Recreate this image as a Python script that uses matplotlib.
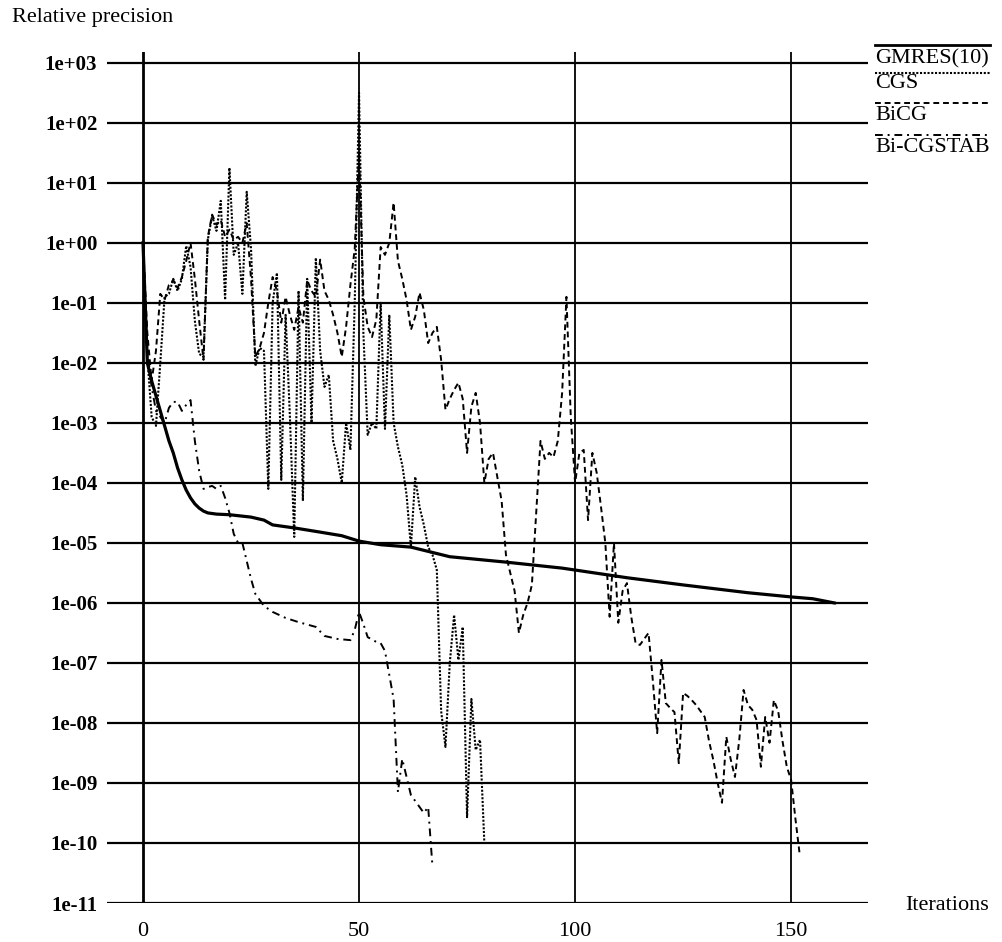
import numpy as np
import matplotlib
matplotlib.use("Agg")
from matplotlib import pyplot as plt
from matplotlib.lines import Line2D

plt.rcParams['font.family'] = ['Liberation Serif', 'DejaVu Serif']

# GMRES(10) -- smooth solid curve (iteration, log10 of relative precision)
gmres_x = [0, 1, 2, 3, 4, 5, 6, 7, 8, 9, 10, 11, 12, 13, 14, 15, 17, 20, 25, 28,
           30, 35, 41, 46, 50, 55, 62, 71, 84, 97, 112, 125, 140, 150, 155, 160]
gmres_e = [0.0, -2.0, -2.3, -2.55, -2.8, -3.05, -3.3, -3.5, -3.75, -3.95, -4.12, -4.25,
           -4.35, -4.42, -4.47, -4.5, -4.52, -4.53, -4.57, -4.62, -4.7, -4.75, -4.82,
           -4.88, -4.97, -5.03, -5.07, -5.23, -5.32, -5.42, -5.58, -5.7, -5.83, -5.9,
           -5.93, -6.0]

# CGS -- dotted, iterations 0..79
cgs_e = [0.0, -1.9, -2.9, -3.05, -2.0, -0.9, -0.85, -0.6, -0.8, -0.6, -0.05, -0.4,
         -1.3, -1.85, -1.9, 0.05, 0.45, 0.2, 0.7, -0.95, 1.25, -0.2, 0.0, -0.85, 0.85,
         -0.1, -2.05, -1.75, -1.8, -4.1, -1.0, -0.5, -3.95, -1.2, -2.9, -4.9, -0.8,
         -4.3, -0.6, -3.0, -0.25, -1.8, -2.4, -2.2, -3.3, -3.6, -4.0, -3.0, -3.45,
         -1.0, 2.5, -1.5, -3.2, -3.0, -3.1, -1.0, -3.1, -1.2, -3.0, -3.4, -3.7, -4.2,
         -5.07, -3.9, -4.4, -4.7, -5.07, -5.2, -5.45, -7.8, -8.4, -7.0, -6.2, -6.95,
         -6.4, -9.57, -7.6, -8.45, -8.28, -10.0]

# BiCG -- dashed, iterations 0..152
bicg_e = [0.0, -1.5, -2.3, -1.8, -0.85, -0.95, -0.7, -0.62, -0.75, -0.57, -0.3, 0.0,
          -0.6, -1.3, -1.95, 0.1, 0.47, 0.3, 0.38, 0.1, 0.22, 0.05, 0.1, 0.0, 0.33,
          -0.6, -1.9, -1.75, -1.5, -1.0, -0.57, -0.8, -1.33, -0.9, -1.2, -1.45, -1.07,
          -1.33, -0.62, -0.8, -0.9, -0.28, -0.8, -0.95, -1.2, -1.5, -1.9, -1.4, -0.7,
          -0.1, 1.5, -0.9, -1.4, -1.57, -1.28, -0.07, -0.2, 0.0, 0.67, -0.3, -0.6,
          -0.95, -1.45, -1.23, -0.83, -1.12, -1.67, -1.5, -1.4, -1.95, -2.78, -2.6,
          -2.45, -2.33, -2.6, -3.5, -2.73, -2.5, -3.0, -4.0, -3.6, -3.5, -3.9, -4.3,
          -5.2, -5.5, -5.8, -6.5, -6.2, -6.0, -5.7, -4.5, -3.3, -3.6, -3.5, -3.57,
          -3.3, -2.5, -0.9, -2.9, -4.0, -3.5, -3.45, -4.62, -3.5, -3.83, -4.4, -5.0,
          -6.23, -5.0, -6.33, -5.8, -5.67, -6.23, -6.67, -6.7, -6.6, -6.5, -7.3, -8.17,
          -6.95, -7.67, -7.75, -7.82, -8.67, -7.5, -7.55, -7.62, -7.7, -7.8, -7.9,
          -8.3, -8.62, -9.0, -9.33, -8.23, -8.6, -8.9, -8.28, -7.45, -7.7, -7.78,
          -7.95, -8.73, -7.9, -8.33, -7.62, -7.8, -8.3, -8.73, -8.95, -9.6, -10.2]

# Bi-CGSTAB -- dash-dot
stab_x = [0, 1, 2, 3, 4, 5, 6, 7, 8, 9, 10, 11, 12, 13, 14, 15, 16, 17, 18, 19, 20,
          21, 22, 23, 24, 25, 26, 27, 28, 30, 33, 36, 40, 42, 45, 48, 49, 50, 51, 52,
          54, 55, 56, 57, 58, 59, 60, 61, 62, 64, 65, 66, 67]
stab_e = [0.0, -1.8, -2.4, -2.8, -2.9, -3.0, -2.75, -2.65, -2.65, -2.8, -2.7, -2.62,
          -3.3, -3.8, -4.1, -4.07, -4.05, -4.1, -4.05, -4.25, -4.5, -4.85, -5.0, -5.0,
          -5.3, -5.6, -5.85, -5.95, -6.05, -6.15, -6.25, -6.32, -6.4, -6.55, -6.6,
          -6.62, -6.45, -6.15, -6.35, -6.57, -6.65, -6.67, -6.8, -7.2, -7.6, -9.15,
          -8.6, -8.9, -9.2, -9.4, -9.5, -9.4, -10.4]

decades = list(range(-11, 4))
ytick_labels = ['1e-11', '1e-10', '1e-09', '1e-08', '1e-07', '1e-06', '1e-05', '1e-04',
                '1e-03', '1e-02', '1e-01', '1e+00', '1e+01', '1e+02', '1e+03']
xticks = [0, 50, 100, 150]

fig = plt.figure(figsize=(10.02, 9.42), dpi=100)
ax = fig.add_axes([0.1068, 0.0414, 0.7595, 0.9034])
ax.set_yscale('log')
ax.set_xlim(-8.33, 167.8)
ax.set_ylim(1e-11, 10 ** 3.18)

for d in decades:
    ax.axhline(10.0 ** d, color='black', lw=1.6, zorder=1)
for xv in xticks:
    ax.axvline(xv, color='black', lw=2.0 if xv == 0 else 1.3, zorder=1)

ax.plot(gmres_x, 10.0 ** np.array(gmres_e), color='black', lw=2.3, zorder=3)
ax.plot(np.arange(len(cgs_e)), 10.0 ** np.array(cgs_e), color='black', lw=1.5,
        ls=(0, (1, 0.8)), zorder=2)
ax.plot(np.arange(len(bicg_e)), 10.0 ** np.array(bicg_e), color='black', lw=1.4,
        ls=(0, (3, 2)), zorder=2)
ax.plot(stab_x, 10.0 ** np.array(stab_e), color='black', lw=1.4,
        ls=(0, (4, 2.5, 1, 2.5)), zorder=2)

for s in ax.spines.values():
    s.set_visible(False)
ax.set_yticks([10.0 ** d for d in decades])
ax.set_yticklabels(ytick_labels, fontsize=15, fontweight='bold')
ax.yaxis.set_minor_locator(matplotlib.ticker.NullLocator())
ax.set_xticks(xticks)
ax.set_xticklabels([str(v) for v in xticks], fontsize=16)
ax.tick_params(axis='y', length=0, pad=7)
ax.tick_params(axis='x', length=0, pad=14)

fig.text(0.012, 0.981, 'Relative precision', fontsize=16, va='center', ha='left')
fig.text(0.903, 0.039, 'Iterations', fontsize=16, va='center', ha='left')

# legend: line sample drawn above each label
names = ['GMRES(10)', 'CGS', 'BiCG', 'Bi-CGSTAB']
styles = [dict(lw=2.0, ls='-'), dict(lw=1.5, ls=(0, (1, 0.8))),
          dict(lw=1.4, ls=(0, (3, 2))), dict(lw=1.4, ls=(0, (4, 2.5, 1, 2.5)))]
line_py = [45, 73, 103, 135]
text_py = [59, 84, 115, 148]
for name, st, lp, tp in zip(names, styles, line_py, text_py):
    yl = 1 - lp / 942
    fig.add_artist(Line2D([875 / 1002, 990 / 1002], [yl, yl], color='black',
                          transform=fig.transFigure, **st))
    fig.text(875 / 1002, 1 - tp / 942, name, fontsize=16, va='center', ha='left')

fig.savefig('out.png', dpi=100)
